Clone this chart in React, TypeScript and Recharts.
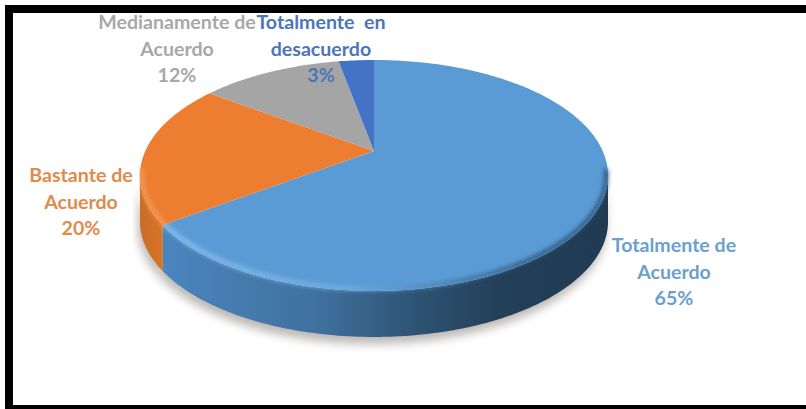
import React from 'react';
import { PieChart, Pie } from 'recharts';

const categories = ['Totalmente de Acuerdo', 'Bastante de Acuerdo', 'Medianamente de Acuerdo', 'Totalmente en desacuerdo'];
const shares = [65, 20, 12, 3];
const labelLines = [['Totalmente de', 'Acuerdo'], ['Bastante de', 'Acuerdo'], ['Medianamente de', 'Acuerdo'], ['Totalmente  en', 'desacuerdo']];
const labelCenters = [[674, 246], [81, 176], [177, 23], [321, 23]];
const labelColors = ['#6c9fcd', '#e08b4c', '#a8a8a8', '#4c76b8'];
const topColors = ['#5b9bd5', '#ed7d31', '#a5a5a5', '#4472c4'];
const wallColors = ['url(#blueWall)', 'url(#orangeWall)', '#8a8a8a', '#36598f'];

const pieData = categories.map((name, i) => ({ name, value: shares[i], index: i }));

// the disc is tilted, so its centre sits above the middle of the drawn ellipse
const CX = 374;
const CY = 151;
const SCALE_X = 228.7;
const SCALE_Y = 110.3;
const TILT = 0.212;
const DEPTH = 46;
const LINE_HEIGHT = 26.5;

// clockwise degrees from 12 o'clock onto the tilted disc
const rimPoint = (deg: number) => {
  const rad = (deg * Math.PI) / 180;
  const u = Math.sin(rad);
  const v = Math.cos(rad);
  const d = 1 + TILT * v;
  return { x: CX + (SCALE_X * u) / d, y: CY - (SCALE_Y * v) / d, v };
};

const rimPoints = (startAngle: number, endAngle: number) => {
  const from = 90 - startAngle;
  const to = 90 - endAngle;
  const steps = Math.max(2, Math.ceil(to - from));
  const pts = [];
  for (let i = 0; i <= steps; i++) pts.push(rimPoint(from + ((to - from) * i) / steps));
  return pts;
};

const toPath = (pts: { x: number; y: number }[]) =>
  pts.map((p, i) => `${i ? 'L' : 'M'}${p.x.toFixed(2)},${p.y.toFixed(2)}`).join(' ');

// only the near half of the rim has a visible side
const frontPoints = (props: any) => rimPoints(props.startAngle, props.endAngle).filter((p) => p.v <= -TILT);

const wallPath = (props: any) => {
  const front = frontPoints(props);
  if (front.length < 2) return null;
  const lower = [...front].reverse().map((p) => ({ x: p.x, y: p.y + DEPTH }));
  return `${toPath(front)} ${toPath(lower).replace('M', 'L')} Z`;
};

const ShadowSector = (props: any) => {
  const d = wallPath(props);
  if (!d) return <g />;
  return <path d={d} fill="#6b625a" opacity={0.45} filter="url(#softShadow)" transform="translate(-2,7)" />;
};

const WallSector = (props: any) => {
  const d = wallPath(props);
  if (!d) return <g />;
  return <path d={d} fill={wallColors[props.payload?.index ?? props.index]} stroke="none" />;
};

const TopSector = (props: any) => {
  const idx = props.payload?.index ?? props.index;
  const rim = rimPoints(props.startAngle, props.endAngle);
  const d = `M${CX},${CY} ${toPath(rim).replace('M', 'L')} Z`;
  const inset = rim
    .filter((p) => p.v <= -0.16)
    .map((p) => ({ x: CX + (p.x - CX) * 0.992, y: CY + (p.y - CY) * 0.985 }));
  return (
    <g>
      <path d={d} fill={topColors[idx]} stroke="none" />
      {inset.length > 1 && idx < 2 && (
        <path
          d={toPath(inset)}
          fill="none"
          stroke={idx === 0 ? 'url(#blueBevel)' : '#f79a5c'}
          strokeWidth={4}
          strokeLinecap="round"
          filter="url(#softEdge)"
        />
      )}
    </g>
  );
};

const renderLabel = (props: any) => {
  const idx = props.payload?.index ?? props.index;
  const [x, y] = labelCenters[idx];
  const lines = [...labelLines[idx], `${shares[idx]}%`];
  return (
    <text
      key={categories[idx]}
      textAnchor="middle"
      fill={labelColors[idx]}
      fontFamily="Lato, sans-serif"
      fontSize={19.6}
      fontWeight={700}
      style={{ whiteSpace: 'pre' }}
    >
      {lines.map((line, i) => (
        <tspan key={i} x={x} y={y + 6 + i * LINE_HEIGHT}>
          {line}
        </tspan>
      ))}
    </text>
  );
};

const App: React.FC = () => (
  <div style={{ position: 'absolute', left: 0, top: 0, width: 806, height: 409, background: '#fff', overflow: 'hidden' }}>
    <div
      style={{
        position: 'absolute',
        left: 5,
        top: 5,
        width: 801,
        height: 404,
        boxSizing: 'border-box',
        borderTop: '8px solid #000',
        borderLeft: '8px solid #000',
        borderBottom: '4px solid #000',
        background: '#fff',
      }}
    />
    <div style={{ position: 'absolute', left: 0, top: 0 }}>
      <PieChart width={806} height={409} margin={{ top: 0, right: 0, bottom: 0, left: 0 }}>
        <defs>
          <linearGradient id="blueWall" gradientUnits="userSpaceOnUse" x1={160} y1={0} x2={610} y2={0}>
            <stop offset="0" stopColor="#4a86bf" />
            <stop offset="0.35" stopColor="#40719f" />
            <stop offset="0.55" stopColor="#2f5577" />
            <stop offset="0.75" stopColor="#234059" />
            <stop offset="1" stopColor="#203a52" />
          </linearGradient>
          <linearGradient id="orangeWall" gradientUnits="userSpaceOnUse" x1={140} y1={0} x2={170} y2={0}>
            <stop offset="0" stopColor="#c96d28" />
            <stop offset="1" stopColor="#de7629" />
          </linearGradient>
          <linearGradient id="blueBevel" gradientUnits="userSpaceOnUse" x1={165} y1={0} x2={610} y2={0}>
            <stop offset="0" stopColor="#8cc3f2" />
            <stop offset="0.4" stopColor="#76aee0" />
            <stop offset="0.6" stopColor="#4f86b8" />
            <stop offset="0.8" stopColor="#2f5880" />
            <stop offset="1" stopColor="#2c5278" />
          </linearGradient>
          <filter id="softShadow" x="-20%" y="-40%" width="140%" height="200%">
            <feGaussianBlur stdDeviation="5" />
          </filter>
          <filter id="softEdge" x="-10%" y="-30%" width="120%" height="160%">
            <feGaussianBlur stdDeviation="2" />
          </filter>
        </defs>
        <Pie
          data={pieData}
          dataKey="value"
          cx={CX}
          cy={CY}
          outerRadius={100}
          startAngle={90}
          endAngle={-270}
          stroke="none"
          shape={ShadowSector}
          isAnimationActive={false}
        />
        <Pie
          data={pieData}
          dataKey="value"
          cx={CX}
          cy={CY}
          outerRadius={100}
          startAngle={90}
          endAngle={-270}
          stroke="none"
          shape={WallSector}
          isAnimationActive={false}
        />
        <Pie
          data={pieData}
          dataKey="value"
          cx={CX}
          cy={CY}
          outerRadius={100}
          startAngle={90}
          endAngle={-270}
          stroke="none"
          shape={TopSector}
          label={renderLabel}
          labelLine={false}
          isAnimationActive={false}
        />
      </PieChart>
    </div>
  </div>
);

export default App;
